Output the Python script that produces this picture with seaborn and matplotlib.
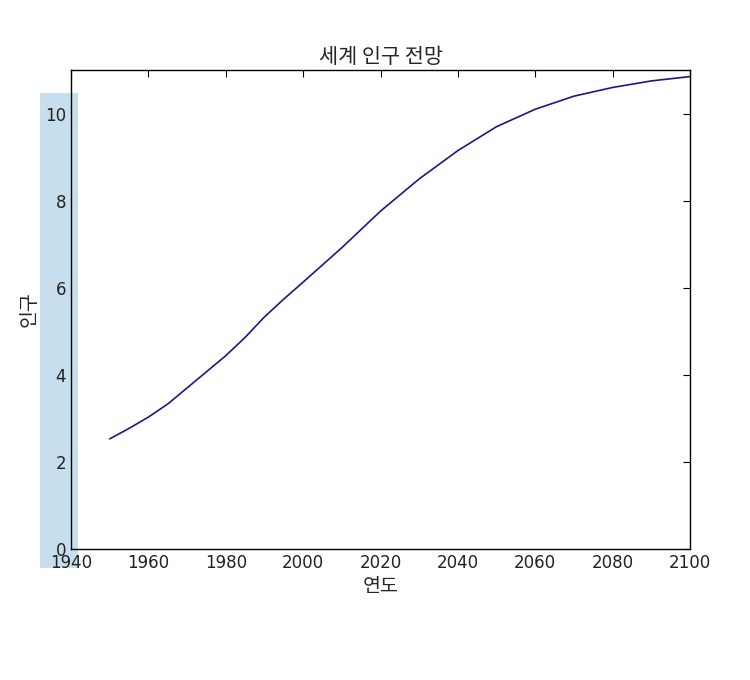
import matplotlib
matplotlib.use("Agg")
import matplotlib.pyplot as plt
import seaborn as sns
import pandas as pd
from matplotlib.patches import Rectangle

# world population projection (billions)
years = [1950, 1955, 1960, 1965, 1970, 1975, 1980, 1985, 1990, 1995, 2000,
         2010, 2020, 2030, 2040, 2050, 2060, 2070, 2080, 2090, 2100]
population = [2.53, 2.77, 3.03, 3.33, 3.70, 4.07, 4.44, 4.86, 5.33, 5.74, 6.13,
              6.92, 7.76, 8.50, 9.15, 9.70, 10.10, 10.40, 10.60, 10.75, 10.85]
x_ticks = [1940, 1960, 1980, 2000, 2020, 2040, 2060, 2080, 2100]
y_ticks = [0, 2, 4, 6, 8, 10]

sns.set_style("white")
plt.rcParams.update({
    "xtick.direction": "in",
    "ytick.direction": "in",
    "xtick.top": True,
    "ytick.right": True,
    "xtick.major.size": 5,
    "ytick.major.size": 5,
    "axes.edgecolor": "black",
    "axes.linewidth": 1.0,
    "xtick.color": "black",
    "ytick.color": "black",
})
plt.rcParams["font.family"] = ["DejaVu Sans", "Noto Sans CJK KR"]

df = pd.DataFrame({"year": years, "pop": population})

fig = plt.figure(figsize=(7.5, 6.8), dpi=100)
ax = fig.add_axes([0.0947, 0.1926, 0.8253, 0.7044])

ax.add_patch(Rectangle((1932, -0.44), 9.8, 10.92, facecolor="#bcd9ea",
                       edgecolor="none", alpha=0.85, clip_on=False, zorder=0))
sns.lineplot(data=df, x="year", y="pop", color="#1a1a80", linewidth=1.2, ax=ax)

ax.set_xlim(1940, 2100)
ax.set_ylim(0, 11)
ax.set_xticks(x_ticks)
ax.set_yticks(y_ticks)
ax.tick_params(labelsize=12, labelcolor="#222222")
kr = ["Noto Sans CJK KR", "DejaVu Sans"]
ax.set_title("세계 인구 전망", fontsize=15, family=kr, pad=5)
ax.set_xlabel("연도", fontsize=14, family=kr, labelpad=3)
ax.set_ylabel("인구", fontsize=14, family=kr, labelpad=4)

fig.savefig("out.png", dpi=100, facecolor="white")
